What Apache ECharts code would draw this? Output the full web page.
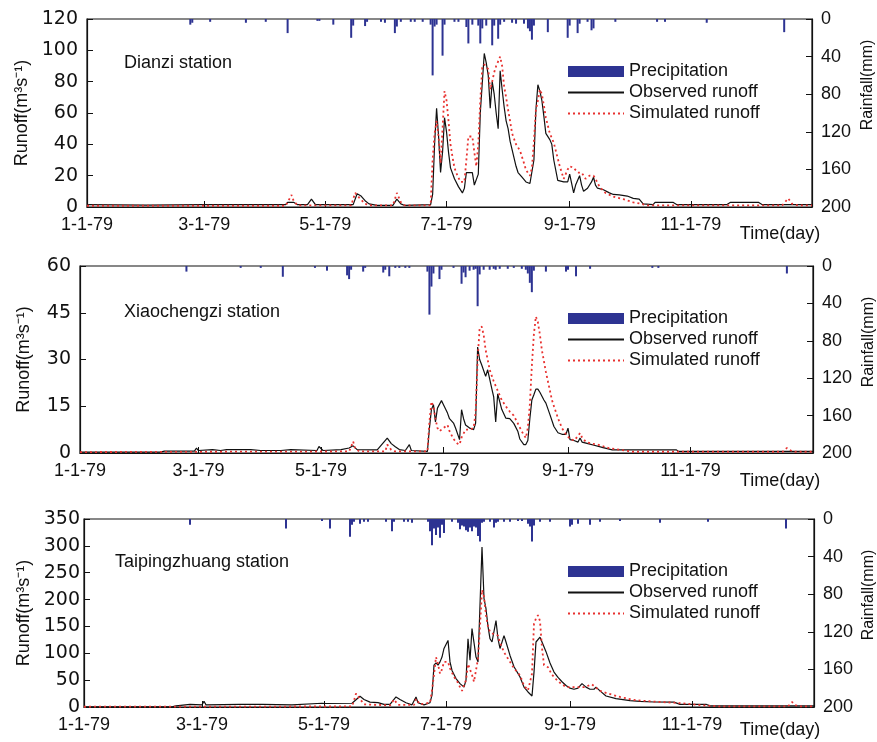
<!DOCTYPE html>
<html>
<head>
<meta charset="utf-8">
<script src="https://cdn.jsdelivr.net/npm/echarts@6/dist/echarts.min.js"></script>
<style>
html,body{margin:0;padding:0;background:#fff;}
#c{width:877px;height:742px;}
</style>
</head>
<body>
<div id="c"></div>
<script>
// ---- tick positions (day of year, Jan 1 = 0) and labels ----
var tickDays = [0, 59, 120, 181, 243, 304];
var tickLabels = ['1-1-79', '3-1-79', '5-1-79', '7-1-79', '9-1-79', '11-1-79'];
var stationNames = ['Dianzi station', 'Xiaochengzi station', 'Taipingzhuang station'];
var legendNames = ['Precipitation', 'Observed runoff', 'Simulated runoff'];

// ---- Dianzi station: [day, value] ----
var dianziRain = [[52,6],[53,4],[62,3],[80,4],[90,3],[101,15],[116,2],[117,2],[124,6],[133,20],[134,7],[140,7.5],[141,3],[148,3],[150,4],[155,15],[156,8],[158,3],[163,3],[165,3],[169,3],[173,6],[174,60],[175,8],[176,6],[179,39],[180,6],[185,3],[187,3],[191,8.5],[192,26],[194,6],[197,7],[198,26],[199,10],[201,7],[204,28],[205,7],[207,21],[208,6],[210,3],[214,4],[216,5],[220,5],[222,10],[223,13],[224,22],[225,7],[232,14],[242,20],[243,7],[247,15],[248,5],[252,3],[254,12],[255,10],[266,3],[287,3],[291,3],[312,4],[351,14]];
var dianziObs = [[0,1.5],[30,1.2],[58,1.5],[59,2.5],[61,1.5],[100,1.5],[101,3],[104,3],[106,1.5],[111,1.5],[113,5],[115,1.5],[134,1.5],[136,8.5],[138,7],[140,4],[142,2],[146,1],[154,1],[156,5],[158,2],[160,1],[173,1.5],[174,8],[175,40],[176,63],[177,45],[178,22],[179,35],[180,57],[181,48],[182,35],[183,25],[185,18],[187,13],[189,9],[190,12],[191,22],[194,22],[195,14],[197,21],[198,60],[200,98],[201,92],[202,84],[203,63],[204,80],[205,72],[206,60],[207,50],[208,87],[209,75],[210,64],[211,55],[212,50],[213,42],[214,41],[216,26],[217,22],[219,19],[221,16],[223,15],[224,14],[225,30],[226,62],[227,78],[228,74],[229,68],[230,58],[231,47],[233,43],[234,40],[235,30],[237,17],[240,16],[242,16],[243,21],[245,9],[246,14],[248,20],[249,14],[250,10],[252,12],[254,16],[255,19],[256,14],[257,12],[260,11],[263,9],[265,8],[268,7.7],[272,7],[275,5.5],[278,5],[280,2],[285,1.5],[286,3],[295,3],[297,1.5],[322,1.5],[324,3],[338,3],[340,1.5],[365,1.5]];
var dianziSim = [[0,0.8],[100,0.8],[101,3],[103,7.7],[104,4],[106,1],[133,1],[134,5],[135,9],[137,6],[140,2],[143,1],[154,1],[156,9],[158,3],[160,1],[173,1],[174,30],[175,47],[176,55],[177,45],[178,28],[179,50],[180,74],[181,68],[182,55],[183,40],[184,32],[185,25],[186,21.5],[188,16],[190,16],[191,30],[192,45],[194,45],[195,35],[196,26],[197,40],[198,68],[199,89],[200,91],[201,90],[202,88],[203,75],[204,80],[205,86],[206,90],[207,93],[208,96],[209,90],[210,77],[211,70],[212,62],[213,55],[214,47],[216,40],[218,36],[220,28],[221,23.6],[223,20],[224,25],[225,42],[226,62],[227,68],[228,75],[229,72],[230,65],[231,57],[233,47],[235,41],[236,36],[238,26],[240,18],[241,17],[242,24],[243,26],[245,25],[247,22],[249,22],[251,18],[253,20],[255,20],[256,18],[258,13],[261,9],[265,6.6],[270,5],[275,3],[278,2.3],[282,1],[350,1],[352,4],[353,5.5],[355,2],[358,1],[365,1]];

// ---- Xiaochengzi station ----
var xiaoRain = [[53,6],[80,2],[90,2],[101,11.5],[117,2],[123,5],[133,10],[134,14],[135,4],[141,6],[142,2],[151,7],[152,4],[154,11],[157,2],[159,2],[162,2],[164,2],[173,6],[174,52],[175,22],[176,8],[179,14],[180,4],[186,2],[190,19],[191,7],[192,12],[194,5],[196,4],[197,3],[198,43],[199,9],[201,4],[204,4],[206,3],[207,4],[209,3],[213,3],[216,2],[220,3],[222,4],[223,8],[224,18],[225,28],[226,5],[232,6],[242,6],[243,4],[247,11],[254,3],[285,2],[288,2],[352,8]];
var xiaoObs = [[0,0.3],[40,0.3],[42,0.6],[57,0.6],[58,1.6],[59,0.8],[66,1.1],[70,0.8],[73,1.1],[85,1.1],[90,0.8],[100,0.8],[105,1.1],[118,0.8],[119,2.1],[121,0.8],[130,1.1],[134,1.6],[136,2.3],[138,1.1],[148,1],[153,4.8],[155,3],[157,2],[159,1.1],[162,0.8],[164,2.7],[165,0.8],[173,0.5],[174,8],[175,14],[176,15.5],[177,10],[178,14.4],[180,16.8],[181,15.5],[183,12.8],[184,11],[186,9.6],[187,8],[189,4.3],[190,13.9],[191,11],[192,9],[194,8],[196,7.5],[197,9.6],[198,34],[199,30],[200,28.3],[202,24.6],[203,26.7],[205,20.8],[206,18],[207,10],[208,19],[210,14],[212,11.2],[214,11],[216,9.5],[218,7],[219,4.5],[221,2.7],[222,2.7],[223,4],[224,11],[225,17],[226,18.7],[227,20.5],[228,20.5],[229,19.5],[231,17],[232,16],[234,12.3],[236,8.5],[238,6.5],[240,6],[242,6],[243,8],[244,4.3],[246,4],[248,3.5],[249,4.8],[250,3.5],[253,3],[256,2.5],[260,1.8],[265,1],[297,1],[298,0.5],[365,0.5]];
var xiaoSim = [[0,0.3],[134,0.5],[135,2],[136,3.7],[137,1.5],[139,0.5],[152,0.5],[153,2.7],[155,1],[157,0.5],[173,0.5],[174,10],[175,16.5],[176,15],[177,11],[178,8],[179,7],[181,8],[183,9],[184,7],[186,4.5],[188,3],[189,2.7],[190,5],[192,7.5],[194,7.5],[196,8],[197,13],[198,30],[199,40],[200,40.6],[201,37.9],[202,33],[203,30],[204,26.7],[206,23],[208,20],[210,17],[212,15],[214,13.3],[216,12],[218,9.5],[220,6.9],[222,4.8],[223,8],[224,15.5],[225,28],[226,38],[227,43.8],[228,42],[229,38],[230,33],[232,26],[233,23],[235,17],[236,15],[238,11.2],[240,8],[242,6],[244,4.5],[246,4],[248,5.5],[249,6.4],[250,5],[252,3.5],[255,3],[259,2.5],[263,1.6],[269,1],[275,0.4],[350,0.4],[352,1.6],[354,0.8],[356,0.4],[365,0.4]];

// ---- Taipingzhuang station ----
var taipingRain = [[53,6],[101,10],[119,2],[123,10],[133,19],[134,6],[135,3],[138,5],[140,3],[142,3],[151,3],[154,13],[155,3],[160,3],[162,3],[164,4],[172,3],[173,13],[174,28],[175,10],[176,17],[177,9],[178,20],[179,6],[180,15],[184,3],[187,4],[188,11],[189,7],[190,8],[191,12],[192,13.5],[193,9],[194,13],[195,8],[196,9],[197,18],[198,24],[199,4],[200,3],[203,3],[205,9],[206,4],[207,3],[210,3],[213,3],[217,2],[219,2],[222,5],[223,8],[224,24],[225,7],[228,3],[233,3],[243,8],[244,6],[247,5],[253,6],[258,3],[268,2],[288,4],[312,3],[351,10]];
var taipingObs = [[0,0.5],[44,0.5],[46,2],[53,5],[59,4],[60,10.6],[61,4],[78,5],[79,4],[89,5],[90,4],[104,4],[105,6.8],[119,7],[120,10.6],[121,6.5],[134,7],[135,9],[138,20],[140,14],[143,9],[147,8],[150,5],[153,5],[156,18.7],[158,14],[161,8],[164,4],[166,18.7],[167,8],[170,4],[173,8],[174,22],[175,78],[176,82],[177,78],[178,84],[179,93],[180,109],[182,124],[183,84],[184,68],[186,53],[188,43.6],[190,37],[191,50],[192,127],[193,87],[194,146],[195,120],[196,93],[197,84],[198,190],[199,298],[200,202],[201,183],[202,150],[203,127],[204,121],[206,161],[207,127],[208,109],[210,133],[211,121],[213,96],[215,75],[218,56],[220,37],[222,28],[224,20.5],[225,65],[226,121],[228,130],[229,121],[231,103],[233,82],[235,65],[237,55],[239,47],[241,40],[243,35],[245,33],[247,35],[249,43.6],[251,37],[253,33],[255,33],[256,37],[258,30],[261,20.5],[266,15.6],[273,12],[278,10.6],[285,9.3],[295,9],[298,5],[311,5],[313,2],[365,2]];
var taipingSim = [[0,0.5],[134,1],[135,12],[136,25],[138,15],[140,5],[153,3],[155,14],[157,4],[165,4],[166,15],[168,5],[173,8],[174,31],[175,60],[176,93],[177,80],[178,62],[179,70],[180,84],[182,84],[183,72],[185,56],[187,45],[188,37],[189,30],[190,28],[191,50],[192,80],[193,81],[194,60],[195,47],[196,47],[197,90],[198,150],[199,218],[200,205],[201,171],[202,150],[203,140],[205,135],[207,133],[208,120],[210,102],[213,84],[215,72],[218,59],[220,40],[222,31],[223,31],[224,62],[225,155],[226,165],[227,171],[228,160],[229,110],[230,78],[232,74],[234,60],[236,52],[238,45],[241,37],[245,37],[250,37],[254,42],[256,36],[258,30],[262,25],[268,18.7],[275,13],[285,10],[295,8],[301,6.3],[310,3],[318,1],[352,1],[354,9.3],[356,3],[358,1],[365,1]];

var runoffMax = [120, 60, 350];
var runoffStep = [20, 15, 50];
var rainMax = 200, rainStep = 40;

// ---- layout (pixels) ----
var FONT = 'Liberation Sans, Arial, Helvetica, sans-serif';
var YFONT = 'DejaVu Sans, Liberation Sans, sans-serif';
var panels = [
  {grid:{left:87, top:19, width:725, height:188}, nameGap:55, labMargin:9, title:[124,54], legendTop:61, rainName:[868,85], timeY:225},
  {grid:{left:80, top:266, width:733, height:187}, nameGap:47, labMargin:9, title:[124,303], legendTop:308, rainName:[869,342], timeY:472},
  {grid:{left:84, top:519, width:730, height:188}, nameGap:51, labMargin:4, title:[115,553], legendTop:561, rainName:[869,595], timeY:721}
];
var rains = [dianziRain, xiaoRain, taipingRain];
var obs = [dianziObs, xiaoObs, taipingObs];
var sims = [dianziSim, xiaoSim, taipingSim];

var BAR = '#2d3392', RED = '#e8312f', INK = '#111';
var option = {
  animation:false, backgroundColor:'#fff',
  textStyle:{fontFamily:FONT},
  grid:[], xAxis:[], yAxis:[], series:[], legend:[], title:[], graphic:[]
};
panels.forEach(function(p, i){
  option.grid.push(Object.assign({show:true, borderColor:INK, borderWidth:1.2, backgroundColor:'transparent'}, p.grid));
  option.xAxis.push({
    type:'value', gridIndex:i, min:0, max:365,
    axisLine:{lineStyle:{color:INK, width:1.2}},
    axisTick:{show:true, inside:true, length:6, customValues:tickDays.slice(1), lineStyle:{color:INK}},
    axisLabel:{customValues:tickDays, margin:9, fontSize:18, color:INK, fontFamily:FONT,
      formatter:function(v){ var k = tickDays.indexOf(Math.round(v)); return k >= 0 ? tickLabels[k] : ''; }},
    splitLine:{show:false}
  });
  option.yAxis.push({
    type:'value', gridIndex:i, min:0, max:runoffMax[i], interval:runoffStep[i], position:'left',
    name:'Runoff(m³s⁻¹)', nameLocation:'middle', nameGap:p.nameGap,
    nameTextStyle:{fontSize:18, color:INK, fontFamily:FONT},
    axisLine:{show:true, lineStyle:{color:INK, width:1.2}},
    axisTick:{show:true, inside:true, length:6, lineStyle:{color:INK}},
    axisLabel:{fontSize:19, color:INK, margin:p.labMargin, fontFamily:YFONT, padding:[5,0,0,0]},
    splitLine:{show:false}
  });
  option.yAxis.push({
    type:'value', gridIndex:i, min:0, max:rainMax, interval:rainStep, position:'right', inverse:true,
    axisLine:{show:true, lineStyle:{color:INK, width:1.2}},
    axisTick:{show:true, inside:true, length:6, lineStyle:{color:INK}},
    axisLabel:{fontSize:18, color:INK, margin:9, fontFamily:FONT, padding:[4,0,0,0]},
    splitLine:{show:false}
  });
  option.series.push({
    name:legendNames[0], type:'bar', xAxisIndex:i, yAxisIndex:2*i+1,
    data:rains[i], barWidth:2, itemStyle:{color:BAR}, z:2
  });
  option.series.push({
    name:legendNames[1], type:'line', xAxisIndex:i, yAxisIndex:2*i,
    data:obs[i], symbol:'none', lineStyle:{color:INK, width:1.2}, itemStyle:{color:INK}, z:3
  });
  option.series.push({
    name:legendNames[2], type:'line', xAxisIndex:i, yAxisIndex:2*i,
    data:sims[i], symbol:'none', lineStyle:{color:RED, width:1.8, type:[2,3]}, itemStyle:{color:RED}, z:4
  });
  option.legend.push({
    orient:'vertical', left:567, top:p.legendTop, padding:0, itemGap:0,
    itemWidth:56, itemHeight:11,
    textStyle:{fontSize:18, color:INK, lineHeight:21, fontFamily:FONT},
    data:[{name:legendNames[0], icon:'rect'},
          {name:legendNames[1], itemStyle:{opacity:0}},
          {name:legendNames[2], itemStyle:{opacity:0}}]
  });
  option.title.push({text:stationNames[i], left:p.title[0], top:p.title[1], padding:0,
    textStyle:{fontSize:18, fontWeight:'normal', color:INK, fontFamily:FONT}});
  option.graphic.push({type:'text', x:p.rainName[0], y:p.rainName[1], rotation:Math.PI/2,
    style:{text:'Rainfall(mm)', fontSize:16, fontFamily:FONT, fill:INK, textAlign:'center', textVerticalAlign:'middle'}});
  option.graphic.push({type:'text', x:780, y:p.timeY,
    style:{text:'Time(day)', fontSize:18, fontFamily:FONT, fill:INK, textAlign:'center', textVerticalAlign:'top'}});
});
var chart = echarts.init(document.getElementById('c'));
chart.setOption(option);
</script>
</body>
</html>
